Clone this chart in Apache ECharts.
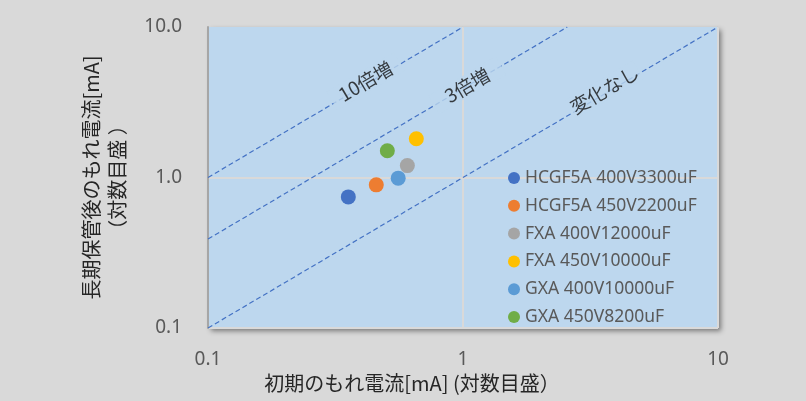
<!DOCTYPE html>
<html>
<head>
<meta charset="utf-8">
<script src="https://cdn.jsdelivr.net/npm/echarts@6/dist/echarts.min.js"></script>
<style>
html,body{margin:0;padding:0;background:#d9d9d9;}
#c{width:806px;height:401px;}
</style>
</head>
<body>
<div id="c"></div>
<script>
// ---- data ----
const seriesNames = ['HCGF5A 400V3300uF','HCGF5A 450V2200uF','FXA 400V12000uF','FXA 450V10000uF','GXA 400V10000uF','GXA 450V8200uF'];
const initialLeak = [0.355, 0.457, 0.605, 0.656, 0.557, 0.505];      // 初期のもれ電流 [mA]
const afterStorageLeak = [0.743, 0.894, 1.20, 1.81, 0.99, 1.506];   // 長期保管後のもれ電流 [mA]
const seriesColors = ['#4472c4','#ed7d31','#a5a5a5','#ffc000','#5b9bd5','#70ad47'];

const refLineNames = ['10倍増','3倍増','変化なし'];
const refLineXs = [[0.1, 1], [0.1, 2.564], [0.1, 10]];
const refLineYs = [[1, 10], [0.39, 10], [0.1, 10]];
const refLabelX = [0.415, 1.04, 3.59];
const refLabelY = [4.36, 4.1, 3.84];

const axisMin = 0.1, axisMax = 10;
const xAxisTitle = '初期のもれ電流[mA] (対数目盛）';
const yAxisTitle = '長期保管後のもれ電流[mA]\n（対数目盛 ）';

// ---- chart ----
const chart = echarts.init(document.getElementById('c'), null, {renderer:'canvas'});
const fmt = v => String(+Number(v).toPrecision(3));

const series = [];
refLineNames.forEach((n, i) => {
  series.push({
    name: n, type: 'line', silent: true, showSymbol: false, symbol: 'none', z: 2,
    data: refLineXs[i].map((x, j) => [x, refLineYs[i][j]]),
    lineStyle: {color: '#4472c4', width: 1.2, type: [5, 3]}
  });
});
series.push({
  name: 'refLabels', type: 'scatter', silent: true, symbolSize: 0, z: 3,
  data: refLabelX.map((x, i) => [x, refLabelY[i], refLineNames[i]]),
  label: {
    show: true, position: 'inside', rotate: 30.5,
    formatter: p => p.data[2],
    color: '#111', fontSize: 19, fontFamily: '"Noto Sans CJK JP", sans-serif',
    backgroundColor: '#bdd7ee', width: 78, align: 'center', padding: [1, 0]
  }
});
seriesNames.forEach((n, i) => {
  series.push({
    name: n, type: 'scatter', symbol: 'circle', symbolSize: 15, z: 5,
    itemStyle: {color: seriesColors[i], opacity: 1},
    data: [[initialLeak[i], afterStorageLeak[i]]]
  });
});

chart.setOption({
  backgroundColor: '#d9d9d9',
  animation: false,
  grid: {
    left: 208, right: 88, top: 27, bottom: 73, show: true,
    backgroundColor: '#bdd7ee', borderWidth: 0,
    shadowColor: 'rgba(0,0,0,0.45)', shadowBlur: 5, shadowOffsetX: 3, shadowOffsetY: 3
  },
  legend: {
    data: seriesNames, orient: 'vertical', left: 503, top: 164,
    icon: 'circle', itemWidth: 12, itemHeight: 12, itemGap: 9.8,
    textStyle: {color: '#595959', fontSize: 17.5, lineHeight: 17, fontFamily: '"Noto Sans", sans-serif'}
  },
  xAxis: {
    type: 'log', logBase: 10, min: axisMin, max: axisMax,
    name: xAxisTitle, nameLocation: 'middle', nameGap: 45,
    nameTextStyle: {color: '#262626', fontSize: 20, fontFamily: '"Noto Sans CJK JP", sans-serif', padding: [0, 102, 0, 0]},
    axisLine: {show: false}, axisTick: {show: false},
    axisLabel: {color: '#595959', fontSize: 19, margin: 22, fontFamily: '"Noto Sans", sans-serif', formatter: fmt},
    splitLine: {show: true, lineStyle: {color: '#d9d9d9', width: 2}},
    minorTick: {show: false}
  },
  yAxis: {
    type: 'log', logBase: 10, min: axisMin, max: axisMax,
    name: yAxisTitle, nameLocation: 'middle', nameGap: 78, nameRotate: 90,
    nameTextStyle: {color: '#262626', fontSize: 20, lineHeight: 26, fontFamily: '"Noto Sans CJK JP", sans-serif', align: 'center'},
    axisLine: {show: true, lineStyle: {color: '#a6a6a6', width: 2}}, axisTick: {show: false},
    axisLabel: {color: '#595959', fontSize: 19, margin: 26, fontFamily: '"Noto Sans", sans-serif', formatter: v => Number(v).toFixed(1)},
    splitLine: {show: true, showMaxLine: false, lineStyle: {color: '#d9d9d9', width: 2}}
  },
  series: series
});
</script>
</body>
</html>
